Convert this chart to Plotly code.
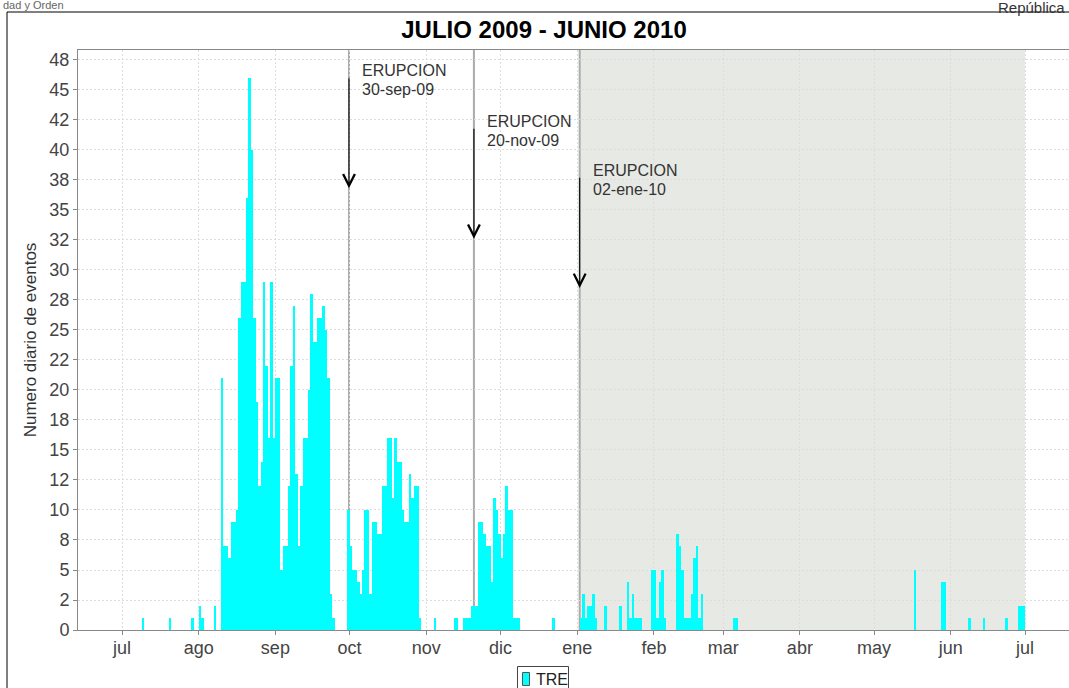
import plotly.graph_objects as go
import pandas as pd

# ---------------- data ----------------
event_dates = [
    "2009-07-09", "2009-07-20", "2009-07-29",
    "2009-08-01", "2009-08-02", "2009-08-07", "2009-08-10", "2009-08-11", "2009-08-12",
    "2009-08-13", "2009-08-14", "2009-08-15", "2009-08-16", "2009-08-17", "2009-08-18",
    "2009-08-19", "2009-08-20", "2009-08-21", "2009-08-22", "2009-08-23", "2009-08-24",
    "2009-08-25", "2009-08-26", "2009-08-27", "2009-08-28", "2009-08-29", "2009-08-30",
    "2009-08-31",
    "2009-09-01", "2009-09-02", "2009-09-03", "2009-09-04", "2009-09-05", "2009-09-06",
    "2009-09-07", "2009-09-08", "2009-09-09", "2009-09-10", "2009-09-11", "2009-09-12",
    "2009-09-13", "2009-09-14", "2009-09-15", "2009-09-16", "2009-09-17", "2009-09-18",
    "2009-09-19", "2009-09-20", "2009-09-21", "2009-09-22", "2009-09-23", "2009-09-24",
    "2009-09-30",
    "2009-10-01", "2009-10-02", "2009-10-03", "2009-10-04", "2009-10-05", "2009-10-06",
    "2009-10-07", "2009-10-08", "2009-10-09", "2009-10-10", "2009-10-11", "2009-10-12",
    "2009-10-13", "2009-10-14", "2009-10-15", "2009-10-16", "2009-10-17", "2009-10-18",
    "2009-10-19", "2009-10-20", "2009-10-21", "2009-10-22", "2009-10-23", "2009-10-24",
    "2009-10-25", "2009-10-26", "2009-10-27", "2009-10-28", "2009-10-29",
    "2009-11-04", "2009-11-12", "2009-11-13", "2009-11-16", "2009-11-17", "2009-11-18",
    "2009-11-19", "2009-11-20", "2009-11-21", "2009-11-22", "2009-11-23", "2009-11-24",
    "2009-11-25", "2009-11-26", "2009-11-27", "2009-11-28", "2009-11-29", "2009-11-30",
    "2009-12-01", "2009-12-02", "2009-12-03", "2009-12-04", "2009-12-05", "2009-12-06",
    "2009-12-07", "2009-12-08", "2009-12-22",
    "2010-01-02", "2010-01-03", "2010-01-04", "2010-01-05", "2010-01-06", "2010-01-07",
    "2010-01-08", "2010-01-12", "2010-01-18", "2010-01-21", "2010-01-22", "2010-01-23",
    "2010-01-24", "2010-01-25", "2010-01-26", "2010-01-31",
    "2010-02-01", "2010-02-02", "2010-02-03", "2010-02-04", "2010-02-05", "2010-02-10",
    "2010-02-11", "2010-02-12", "2010-02-13", "2010-02-14", "2010-02-15", "2010-02-16",
    "2010-02-17", "2010-02-18", "2010-02-19", "2010-02-20",
    "2010-03-05", "2010-03-06",
    "2010-05-17", "2010-05-28", "2010-05-29",
    "2010-06-08", "2010-06-14", "2010-06-23", "2010-06-28", "2010-06-29", "2010-06-30",
]
event_counts = [
    1, 1, 1,
    2, 1, 2, 21, 7, 7,
    6, 9, 9, 10, 26, 29,
    29, 36, 46, 40, 26, 19,
    12, 14, 29, 22, 16, 29,
    16,
    21, 21, 5, 7, 7, 12,
    22, 27, 13, 7, 12, 16,
    16, 20, 28, 24, 24, 26,
    26, 27, 25, 21, 3, 1,
    10,
    7, 5, 5, 4, 3, 5,
    10, 10, 3, 9, 9, 8,
    8, 12, 12, 16, 16, 11,
    16, 14, 14, 10, 9, 9,
    13, 11, 12, 12, 1,
    1, 1, 1, 1, 1, 1,
    2, 2, 2, 9, 9, 8,
    7, 7, 4, 11, 10, 8,
    6, 8, 12, 10, 10, 1,
    1, 1, 1,
    1, 3, 1, 2, 2, 3,
    1, 2, 2, 4, 1, 3,
    1, 1, 1, 5,
    5, 1, 4, 5, 1, 8,
    7, 5, 1, 1, 1, 3,
    6, 7, 1, 3,
    1, 1,
    5, 4, 4,
    1, 1, 1, 2, 2, 2,
]

series_name = "TRE"
chart_title = "JULIO 2009 - JUNIO 2010"
y_title = "Numero diario de eventos"

eruption_dates = ["2009-09-30 18:00", "2009-11-20 06:00", "2010-01-02 00:00"]
eruption_titles = ["ERUPCION", "ERUPCION", "ERUPCION"]
eruption_day_labels = ["30-sep-09", "20-nov-09", "02-ene-10"]
arrow_top = [46.1, 41.9, 37.8]
arrow_tip = [36.8, 32.6, 28.5]

shade_start = "2010-01-02"
shade_end = "2010-07-01"

month_ticks = ["2009-07-01", "2009-08-01", "2009-09-01", "2009-10-01", "2009-11-01",
               "2009-12-01", "2010-01-01", "2010-02-01", "2010-03-01", "2010-04-01",
               "2010-05-01", "2010-06-01", "2010-07-01"]
month_labels = ["jul", "ago", "sep", "oct", "nov", "dic", "ene", "feb", "mar", "abr",
                "may", "jun", "jul"]

y_tickvals = [0, 2.5, 5, 7.5, 10, 12.5, 15, 17.5, 20, 22.5, 25, 27.5, 30, 32.5, 35,
              37.5, 40, 42.5, 45, 47.5]
y_ticktext = ["0", "2", "5", "8", "10", "12", "15", "18", "20", "22", "25", "28", "30",
              "32", "35", "38", "40", "42", "45", "48"]

# ---------------- figure ----------------
W, H = 1069, 688
ML, MR, MT, MB = 78, 0, 50, 58
PW, PH = W - ML - MR, H - MT - MB


def px_x(px):
    return (px - ML) / PW


def px_y(py):
    return (H - MB - py) / PH


FONT = "Liberation Sans, Arial, sans-serif"
DAY_MS = 86400000
BAR_COLOR = "#00FFFF"

fig = go.Figure()
fig.add_trace(go.Bar(
    x=pd.to_datetime(event_dates), y=event_counts, name=series_name,
    marker=dict(color=BAR_COLOR, line=dict(width=0)),
    width=DAY_MS, offset=0, showlegend=False,
))

shapes = []
# shaded period after the last eruption
shapes.append(dict(type="rect", xref="x", yref="paper", x0=shade_start, x1=shade_end,
                   y0=0, y1=1, fillcolor="#E7E9E5", line=dict(width=0), layer="below"))
# eruption marker lines
for d in eruption_dates:
    shapes.append(dict(type="line", xref="x", yref="paper", x0=d, x1=d, y0=0, y1=1,
                       line=dict(color="#ABABAB", width=2), layer="between"))
# outer chart border
shapes.append(dict(type="rect", xref="paper", yref="paper",
                   x0=px_x(7), x1=px_x(1090), y0=px_y(720), y1=px_y(12),
                   line=dict(color="black", width=1), fillcolor="rgba(0,0,0,0)",
                   layer="above"))
# legend box and swatch
shapes.append(dict(type="rect", xref="paper", yref="paper",
                   x0=px_x(517.5), x1=px_x(568.5), y0=px_y(692), y1=px_y(666.5),
                   line=dict(color="#444444", width=1), fillcolor="white", layer="above"))
shapes.append(dict(type="rect", xref="paper", yref="paper",
                   x0=px_x(522.5), x1=px_x(529.5), y0=px_y(685.5), y1=px_y(672.5),
                   line=dict(color="#555555", width=1), fillcolor=BAR_COLOR, layer="above"))

annotations = []
for d, t1, t2, top, tip in zip(eruption_dates, eruption_titles, eruption_day_labels,
                               arrow_top, arrow_tip):
    annotations.append(dict(x=d, y=tip, ax=d, ay=top, xref="x", yref="y",
                            axref="x", ayref="y", text="", showarrow=True,
                            arrowhead=5, arrowsize=2.1, arrowwidth=1.1,
                            arrowcolor="black", standoff=0, startstandoff=0))
    annotations.append(dict(x=d, y=top, xref="x", yref="y", text=t1,
                            showarrow=False, xanchor="left", yanchor="middle",
                            xshift=11, yshift=6,
                            font=dict(family=FONT, size=16, color="#333333")))
    annotations.append(dict(x=d, y=top, xref="x", yref="y", text=t2,
                            showarrow=False, xanchor="left", yanchor="middle",
                            xshift=11, yshift=-13,
                            font=dict(family=FONT, size=16, color="#333333")))

# legend text
annotations.append(dict(x=px_x(534), y=px_y(679), xref="paper", yref="paper",
                        text=series_name, showarrow=False, xanchor="left",
                        yanchor="middle", font=dict(family=FONT, size=16, color="#222222")))

# header fragments at the page edges
annotations.append(dict(x=px_x(1), y=px_y(5), xref="paper", yref="paper",
                        text="dad y Orden", showarrow=False, xanchor="left",
                        yanchor="middle", font=dict(family=FONT, size=11, color="#666666")))
annotations.append(dict(x=px_x(1067), y=px_y(8), xref="paper", yref="paper",
                        text="República", showarrow=False, xanchor="right",
                        yanchor="middle", font=dict(family=FONT, size=15, color="#333333")))

fig.update_layout(
    width=W, height=H,
    margin=dict(l=ML, r=MR, t=MT, b=MB, pad=0),
    paper_bgcolor="white", plot_bgcolor="white",
    bargap=0,
    title=dict(text="<b>" + chart_title + "</b>", x=544 / W,
               xanchor="center", y=1 - 30 / H, yanchor="middle",
               font=dict(family=FONT, size=24, color="black")),
    shapes=shapes, annotations=annotations,
    showlegend=False,
)

fig.update_xaxes(
    type="date",
    range=["2009-06-13 05:10", "2010-07-18 18:50"],
    tickvals=pd.to_datetime(month_ticks), ticktext=month_labels,
    tickfont=dict(family=FONT, size=18, color="#444444"),
    ticks="outside", ticklen=4, tickcolor="#888888", ticklabelstandoff=-3,
    showline=True, linecolor="#888888", linewidth=1, mirror=True,
    showgrid=True, gridcolor="#DDDDDD", gridwidth=1, griddash="2px,2px",
    zeroline=False,
)
fig.update_yaxes(
    range=[0, 48.33],
    tickvals=y_tickvals, ticktext=y_ticktext,
    tickfont=dict(family=FONT, size=18, color="#444444"),
    ticks="outside", ticklen=4, tickcolor="#888888",
    showline=True, linecolor="#888888", linewidth=1, mirror=False,
    showgrid=True, gridcolor="#DDDDDD", gridwidth=1, griddash="2px,2px",
    zeroline=False,
    title=dict(text=y_title, font=dict(family=FONT, size=17, color="#333333"), standoff=8),
)

fig.write_html("out.html")
